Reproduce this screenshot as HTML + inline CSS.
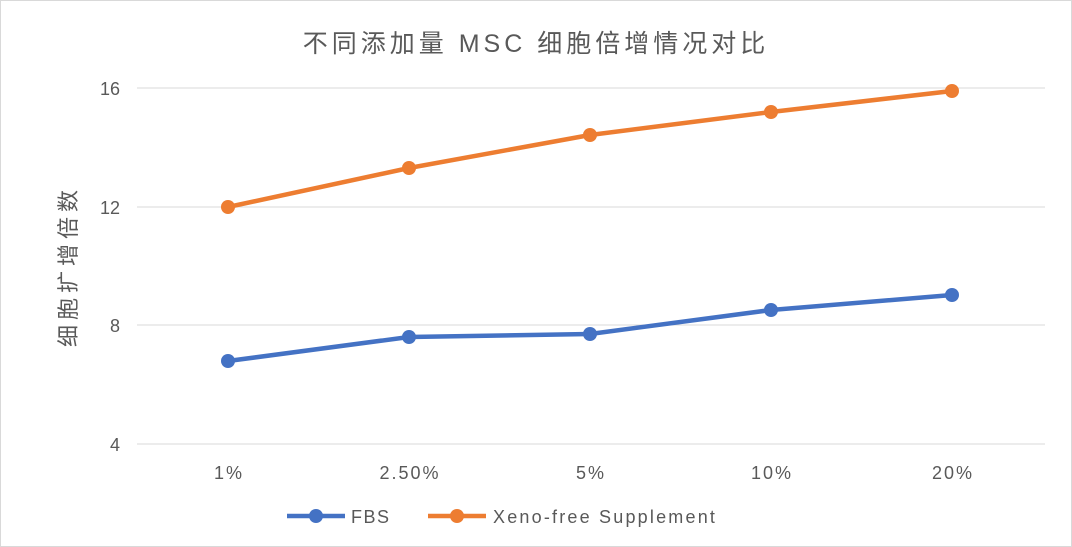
<!DOCTYPE html>
<html><head><meta charset="utf-8"><style>
body{margin:0;background:#fff;}
svg{display:block;font-family:"Liberation Sans","Noto Sans CJK SC",sans-serif;}
</style></head><body>
<svg width="1072" height="547" viewBox="0 0 1072 547">
<rect x="0.5" y="0.5" width="1071" height="546" fill="#fff" stroke="#d9d9d9"/>
<text x="536" y="52" text-anchor="middle" font-size="25" fill="#595959" letter-spacing="4">不同添加量 MSC 细胞倍增情况对比</text>
<g stroke="#d9d9d9" stroke-width="1">
<line x1="137" y1="88" x2="1045" y2="88"/>
<line x1="137" y1="207" x2="1045" y2="207"/>
<line x1="137" y1="325" x2="1045" y2="325"/>
<line x1="137" y1="444" x2="1045" y2="444"/>
</g>
<g font-size="18" fill="#595959" text-anchor="end">
<text x="120" y="95">16</text>
<text x="120" y="214">12</text>
<text x="120" y="332">8</text>
<text x="120" y="451">4</text>
</g>
<text transform="translate(76,266) rotate(-90)" text-anchor="middle" font-size="22" fill="#595959" letter-spacing="5">细胞扩增倍数</text>
<g font-size="18" fill="#595959" text-anchor="middle" letter-spacing="2">
<text x="229" y="479">1%</text>
<text x="410" y="479">2.50%</text>
<text x="591" y="479">5%</text>
<text x="772" y="479">10%</text>
<text x="953" y="479">20%</text>
</g>
<polyline points="228,361 409,337 590,334 771,310 952,295" fill="none" stroke="#4472c4" stroke-width="4.5" stroke-linejoin="round"/>
<g fill="#4472c4"><circle cx="228" cy="361" r="7"/><circle cx="409" cy="337" r="7"/><circle cx="590" cy="334" r="7"/><circle cx="771" cy="310" r="7"/><circle cx="952" cy="295" r="7"/></g>
<polyline points="228,207 409,168 590,135 771,112 952,91" fill="none" stroke="#ed7d31" stroke-width="4.5" stroke-linejoin="round"/>
<g fill="#ed7d31"><circle cx="228" cy="207" r="7"/><circle cx="409" cy="168" r="7"/><circle cx="590" cy="135" r="7"/><circle cx="771" cy="112" r="7"/><circle cx="952" cy="91" r="7"/></g>
<line x1="287" y1="516" x2="345" y2="516" stroke="#4472c4" stroke-width="4.5"/>
<circle cx="316" cy="516" r="7" fill="#4472c4"/>
<text x="351" y="523" font-size="18" fill="#595959" letter-spacing="1.5">FBS</text>
<line x1="428" y1="516" x2="486" y2="516" stroke="#ed7d31" stroke-width="4.5"/>
<circle cx="457" cy="516" r="7" fill="#ed7d31"/>
<text x="493" y="523" font-size="18" fill="#595959" letter-spacing="2.2">Xeno-free Supplement</text>
</svg>
</body></html>
